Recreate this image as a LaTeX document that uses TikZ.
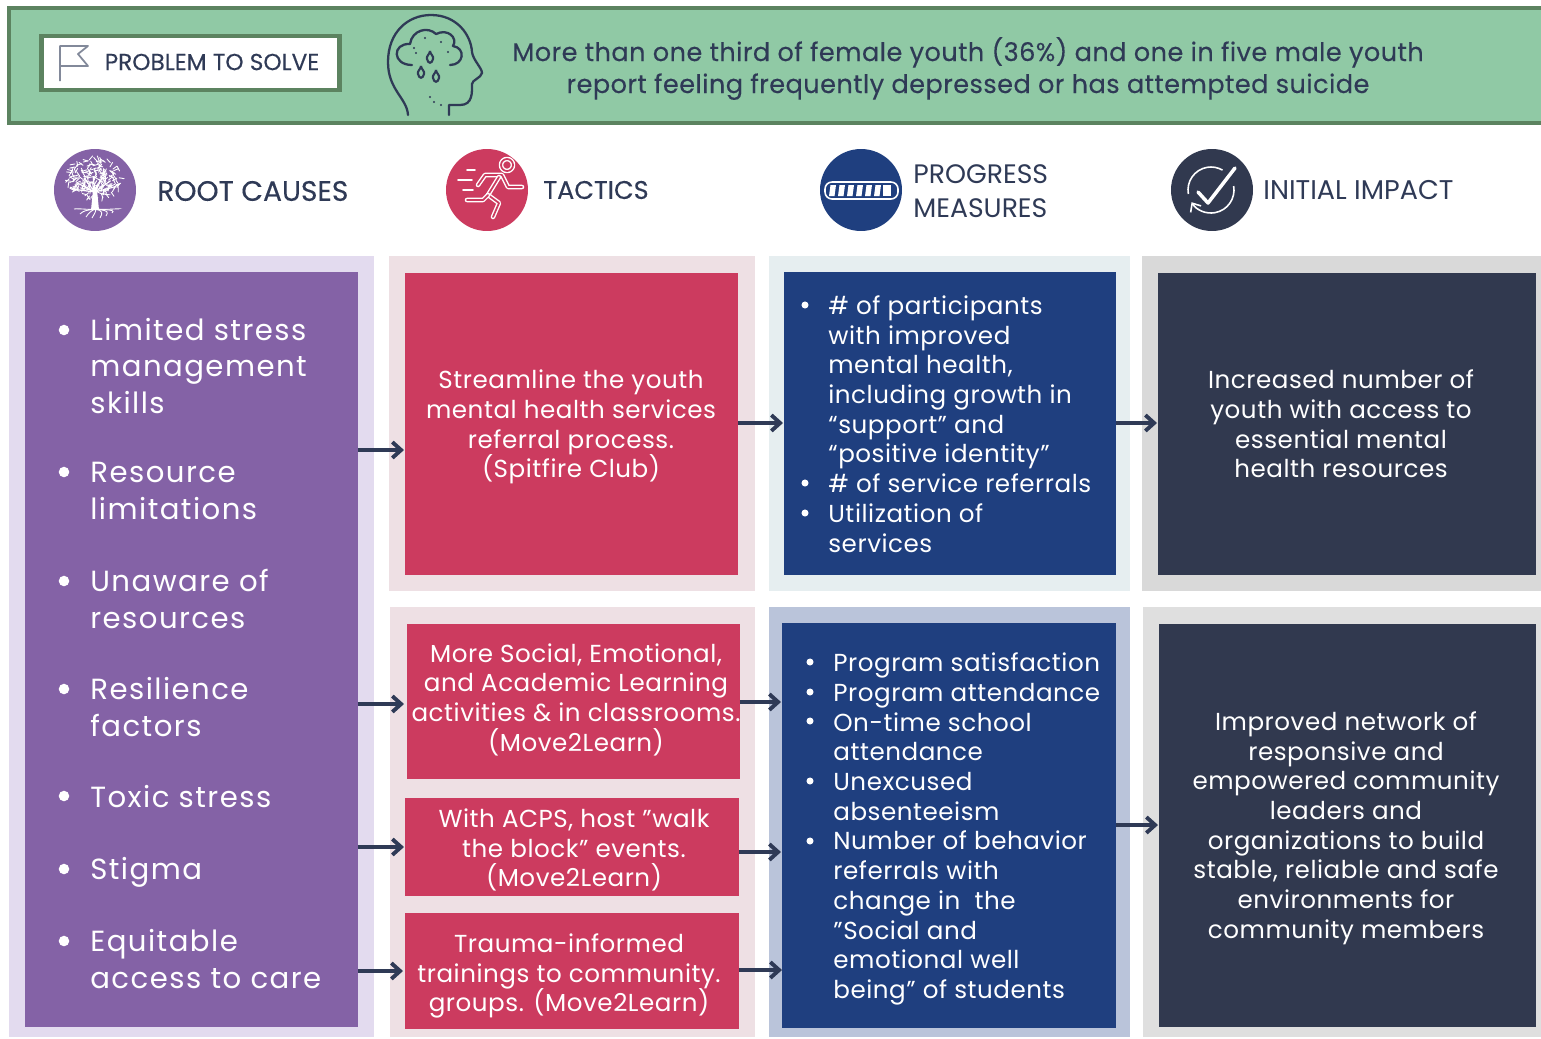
\documentclass[tikz,border=0pt]{standalone}
\usepackage{fontspec}
\setmainfont{Poppins}
\usetikzlibrary{arrows.meta}
\definecolor{ink}{HTML}{2F3A56}
\definecolor{bannerfill}{HTML}{90C9A5}
\definecolor{bannerline}{HTML}{5C8360}
\definecolor{rootc}{HTML}{8462A6}
\definecolor{rootbg}{HTML}{E3DBEF}
\definecolor{tacc}{HTML}{CC3B5F}
\definecolor{tacbg}{HTML}{EEE0E4}
\definecolor{progc}{HTML}{1F3F7F}
\definecolor{progbg}{HTML}{E6EEF0}
\definecolor{progbgb}{HTML}{BAC4DA}
\definecolor{impc}{HTML}{31394F}
\definecolor{impbg}{HTML}{D9D9D9}
\tikzset{
  box/.style={inner sep=0pt,outer sep=0pt},
  flow/.style={draw=ink,line width=2.2pt,-{Straight Barb[length=5pt,width=9pt]}},
  rootitem/.style={anchor=west,align=left,text=white,inner sep=0pt,font=\fontsize{16.6}{20.6}\selectfont\addfontfeatures{LetterSpace=5}},
  body/.style={text=white,inner sep=0pt,align=center,font=\fontsize{14}{16.9}\selectfont\addfontfeatures{LetterSpace=2.2}},
  listtxt/.style={text=white,inner sep=0pt,anchor=west,align=left,font=\fontsize{14}{16.9}\selectfont\addfontfeatures{LetterSpace=2.2}},
  head/.style={text=ink,inner sep=0pt,anchor=west,align=left,font=\fontsize{15.2}{19}\selectfont},
  headb/.style={text=ink,inner sep=0pt,anchor=west,align=left,font=\fontsize{16}{19}\selectfont\addfontfeatures{FakeBold=.25}},
  dot/.style={circle,fill=white,inner sep=0pt,minimum size=6pt},
  limb/.style={white,line width=2.6pt,line cap=round,line join=round,
    postaction={draw=tacc,line width=1pt}},
  thinw/.style={draw=white,line width=1pt,line cap=round},
}
\begin{document}
\begin{tikzpicture}[x=.02cm,y=-.02cm]
\useasboundingbox (0,0) rectangle (1541,1038);
% banner
\draw[fill=bannerfill,draw=bannerline,line width=2pt] (9,8) rectangle (1560,123);
\node[box,draw=bannerline,line width=2.4pt,fill=white,minimum width=5.96cm,minimum height=1.08cm] (problem) at (190.5,63) {};
\node[text=ink,inner sep=0pt,font=\fontsize{13.2}{14}\selectfont\addfontfeatures{FakeBold=.2}] (problemtxt) at (212,62) {PROBLEM TO SOLVE};
\node[text=ink,inner sep=0pt,align=center,font=\fontsize{14.6}{18.2}\selectfont\addfontfeatures{LetterSpace=1.6,FakeBold=.2}] (headline) at (968,68.5) {More than one third of female youth (36\%) and one in five male youth\\report feeling frequently depressed or has attempted suicide};
% flag
\draw[draw=ink!60,line width=1pt,line join=round] (60,81) -- (60,46) -- (88,46) -- (78,54) -- (88,66) -- (60,66);
% head with rain cloud
\draw[ink,line width=1.3pt,line cap=round,line join=round] (408,115) .. controls (407,98) and (388,90) .. (388,62) .. controls (388,32) and (408,15) .. (431,15) .. controls (457,15) and (471,35) .. (472,52) .. controls (473,60) and (482,68) .. (482,73) .. controls (481,78) and (472,80) .. (472,84) .. controls (472,92) and (473,105) .. (460,105) -- (449,105) -- (449,115);
\draw[ink,line width=1.3pt,line cap=round,line join=round] (412,65) .. controls (392,65) and (392,43) .. (410,44) .. controls (412,30) and (428,26) .. (436,34) .. controls (448,28) and (458,38) .. (453,46) .. controls (466,48) and (464,65) .. (450,65);
\foreach \dx/\dy in {430/51,421/66,436/70}{
  \draw[ink,line width=1.2pt] (\dx,\dy) .. controls (\dx,\dy+3) and (\dx-4,\dy+5) .. (\dx-3,\dy+8) .. controls (\dx-2,\dy+13) and (\dx+2,\dy+13) .. (\dx+3,\dy+8) .. controls (\dx+4,\dy+5) and (\dx,\dy+3) .. (\dx,\dy);
}
\foreach \dx/\dy in {425/38,441/42,414/48,416/53,448/52,430/97,434/102,441/105}{\fill[ink] (\dx,\dy) circle[radius=1.1];}
% heading row
\node[box,circle,fill=rootc,minimum size=1.64cm] (rooticon) at (95,190) {};
\node[box,circle,fill=tacc,minimum size=1.64cm] (tacicon) at (487,190) {};
\node[box,circle,fill=progc,minimum size=1.64cm] (progicon) at (861,190) {};
\node[box,circle,fill=impc,minimum size=1.64cm] (impicon) at (1212,190) {};
\node[headb] (roothead) at (157,191) {ROOT CAUSES};
\node[text=ink,inner sep=0pt,anchor=west,font=\fontsize{14.5}{19}\selectfont\addfontfeatures{FakeBold=.25}] (tachead) at (543,190) {TACTICS};
\node[head] (proghead) at (913,191) {PROGRESS\\MEASURES};
\node[head,font=\fontsize{15.4}{19}\selectfont] (imphead) at (1263,190) {INITIAL IMPACT};
% tree
\pgfmathsetseed{7}
\foreach \i in {1,...,190}{
  \pgfmathsetmacro\ra{sqrt(rnd)}
  \pgfmathsetmacro\ta{rnd*360}
  \pgfmathsetmacro\da{rnd*360}
  \draw[white,line width=.5pt,line cap=round] ({94+28*\ra*cos(\ta)},{178+20*\ra*sin(\ta)}) -- ++({5*cos(\da)},{5*sin(\da)});
}
\foreach \a in {190,215,...,350}{\draw[white,line width=.7pt] (95,192) -- ++({22*cos(\a)},{16*sin(\a)});}
\fill[white] (91,210) -- (93,190) -- (92,183) -- (95,188) -- (98,184) -- (97,190) -- (99,210) -- cycle;
\foreach \ex/\ey in {74/209,80/214,86/217,92/218,100/218,106/216,112/213,118/209}{
  \draw[white,line width=.5pt] (95,208) .. controls (95,211) and (\ex+6,208) .. (\ex,\ey);
}
% runner
\draw[limb] (507,165) circle[radius=6];
\draw[limb] (478,185) -- (485,175) -- (502,175) -- (508,187) -- (522,187);
\draw[limb] (499,177) -- (488,195) -- (499,203) -- (493,217);
\draw[limb] (488,195) -- (483,200) -- (467,200);
\draw[thinw] (467,170) -- (475,170) (458,180) -- (472,180) (463,190) -- (473,190);
% progress bar
\draw[white,line width=.9pt,rounded corners=4pt] (825,182) rectangle (898,199);
\foreach \sx in {829,838,...,874}{\fill[white] (\sx+1.5,185) -- (\sx+7,185) -- (\sx+5.5,196) -- (\sx,196) -- cycle;}
\fill[white] (883,185) rectangle (891,196);
% check mark
\draw[white,line width=.9pt] (1211,190) ++(170:23) arc[start angle=170,end angle=300,radius=23];
\draw[white,line width=.9pt,-{Straight Barb[length=4pt,width=7pt]}] (1211,190) ++(-10:23) arc[start angle=-10,end angle=148,radius=23];
\draw[white,line width=2pt,line join=round,line cap=round] (1198,192) -- (1208,203) -- (1235,168);
% columns
\fill[rootbg] (9,256) rectangle (374,1037);
\fill[tacbg] (389,256) rectangle (755,591);
\fill[progbg] (769,256) rectangle (1130,591);
\fill[impbg] (1142,256) rectangle (1541,591);
\fill[tacbg] (390,607) rectangle (755,1037);
\fill[progbgb] (769,607) rectangle (1130,1037);
\fill[impbg!85!white] (1143,607) rectangle (1541,1037);
\node[box,fill=rootc,minimum width=6.66cm,minimum height=15.1cm] (root) at (191.5,649.5) {};
\node[box,fill=tacc,minimum width=6.66cm,minimum height=6.04cm] (tac1) at (571.5,424) {};
\node[box,fill=progc,minimum width=6.64cm,minimum height=6.06cm] (prog1) at (950,423.5) {};
\node[box,fill=impc,minimum width=7.56cm,minimum height=6.04cm] (imp1) at (1347,424) {};
\node[box,fill=tacc,minimum width=6.66cm,minimum height=3.1cm] (tac2) at (573.5,701.5) {};
\node[box,fill=tacc,minimum width=6.68cm,minimum height=1.96cm] (tac3) at (572,847) {};
\node[box,fill=tacc,minimum width=6.68cm,minimum height=2.32cm] (tac4) at (572,971) {};
\node[box,fill=progc,minimum width=6.68cm,minimum height=8.1cm] (prog2) at (949,825.5) {};
\node[box,fill=impc,minimum width=7.54cm,minimum height=8.06cm] (imp2) at (1347.5,825.5) {};
% root causes
\foreach \y/\by/\name/\txt in {366/330/rootA/{Limited stress\\management\\skills},491/472/rootB/{Resource\\limitations},599/581/rootC/{Unaware of\\resources},707/689/rootD/{Resilience\\factors},797/796/rootE/{Toxic stress},872/869/rootF/{Stigma},959/941/rootG/{Equitable\\access to care}}{
  \node[dot] (\name dot) at (64,\by) {};
  \node[rootitem] (\name) at (90,\y) {\txt};
}
% texts
\node[body] (tac1txt) at (571,427) {Streamline the youth\\mental health services\\referral process.\\(Spitfire Club)};
\node[body] (tac2txt) at (576,699.5) {More Social, Emotional,\\and Academic Learning\\activities \& in classrooms.\\(Move2Learn)};
\node[body] (tac3txt) at (574,850) {With ACPS, host "walk\\the block" events.\\(Move2Learn)};
\node[body] (tac4txt) at (569,976) {Trauma-informed\\trainings to community.\\groups. (Move2Learn)};
\node[body] (imp1txt) at (1341,424) {Increased number of\\youth with access to\\essential mental\\health resources};
\node[body] (imp2txt) at (1346,828) {Improved network of\\responsive and\\empowered community\\leaders and\\organizations to build\\stable, reliable and safe\\environments for\\community members};
\node[listtxt] (prog1txt) at (828,424) {\# of participants\\with improved\\mental health,\\including growth in\\“support” and\\“positive identity”\\\# of service referrals\\Utilization of\\services};
\foreach \y in {305,483,513}{\node[dot,minimum size=4pt] at (805,\y) {};}
\node[listtxt] (prog2txt) at (833,829) {Program satisfaction\\Program attendance\\On-time school\\attendance\\Unexcused\\absenteeism\\Number of behavior\\referrals with\\change in\ \ the\\"Social and\\emotional well\\being" of students};
\foreach \y in {662,692,721,781,841}{\node[dot,minimum size=4pt] at (810,\y) {};}
% connectors
\coordinate (tac1in) at (404,450);
\coordinate (prog1in) at (783,423);
\coordinate (imp1in) at (1157,423);
\coordinate (tac2in) at (404,704);
\coordinate (tac3in) at (404,847);
\coordinate (tac4in) at (403,971);
\coordinate (prog2a) at (781,702);
\coordinate (prog2b) at (781,852);
\coordinate (prog2c) at (782,970);
\coordinate (imp2in) at (1158,825);
\draw[flow] (root.east |- tac1in) -- (tac1in);
\draw[flow] (root.east |- tac2in) -- (tac2in);
\draw[flow] (root.east |- tac3in) -- (tac3in);
\draw[flow] (root.east |- tac4in) -- (tac4in);
\draw[flow] (tac1.east |- prog1in) -- (prog1in);
\draw[flow] (prog1.east |- imp1in) -- (imp1in);
\draw[flow] (tac2.east |- prog2a) -- (prog2a);
\draw[flow] (tac3.east |- prog2b) -- (prog2b);
\draw[flow] (tac4.east |- prog2c) -- (prog2c);
\draw[flow] (prog2.east |- imp2in) -- (imp2in);
\end{tikzpicture}
\end{document}
